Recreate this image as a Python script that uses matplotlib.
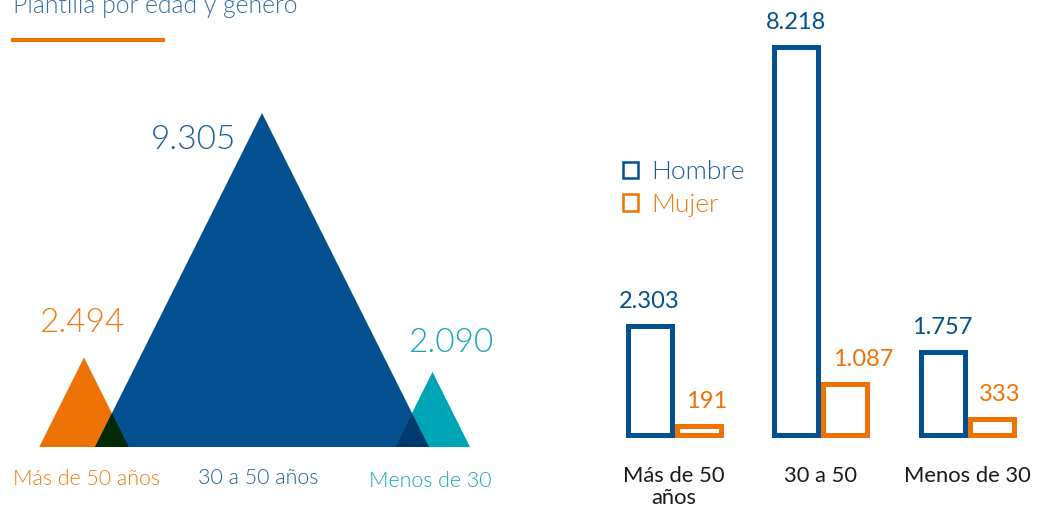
import matplotlib
matplotlib.use("Agg")
import matplotlib.pyplot as plt
from matplotlib.patches import Polygon, Patch
from matplotlib.lines import Line2D

# ---------------- data ----------------
title = "Plantilla por edad y género"
age_groups = ["Más de 50 años", "30 a 50 años", "Menos de 30"]
age_totals = [2494, 9305, 2090]

bar_categories = ["Más de 50\naños", "30 a 50", "Menos de 30"]
hombre = [2303, 8218, 1757]
mujer = [191, 1087, 333]
series_names = ["Hombre", "Mujer"]

# ---------------- style ----------------
W, H = 1053, 511
ORANGE = "#EE7203"
BLUE = "#02508F"
TEAL = "#00A5B5"
OVL_OB = "#022A06"
OVL_BT = "#003A6D"
BLUE_TXT = "#1F5C9C"
ORANGE_TXT = "#F07A12"
TEAL_TXT = "#12A8B8"
tri_colors = [ORANGE, BLUE, TEAL]
tri_text_colors = [ORANGE_TXT, BLUE_TXT, TEAL_TXT]
LIGHT = 300

plt.rcParams['font.family'] = ['Lato', 'DejaVu Sans']

fig = plt.figure(figsize=(W / 100, H / 100), dpi=100)

def fx(px):
    return px / W

def fy(py):
    return 1 - py / H

# title + orange rule
fig.text(fx(13), fy(12.5), title, fontsize=17.8, fontweight=LIGHT,
         color="#3A6EA8", ha='left', va='baseline')
fig.add_artist(Line2D([fx(13), fx(163)], [fy(40), fy(40)], color=ORANGE,
                      lw=3, transform=fig.transFigure))

# ---------------- left: triangles ----------------
UNIT = 334 / 9305.0          # pixels per employee
base_px = 447
axL = fig.add_axes([0, fy(base_px), fx(600), 1 - fy(base_px)])
axL.set_xlim(0, 600 / UNIT)
axL.set_ylim(0, base_px / UNIT)
axL.axis('off')

centers = [84 / UNIT, 262 / UNIT, 432.5 / UNIT]
for c, v, col in zip(centers, age_totals, tri_colors):
    axL.add_patch(Polygon([(c - v / 2, 0), (c, v), (c + v / 2, 0)],
                          closed=True, facecolor=col, edgecolor='none'))

# overlaps (darker blend)
for i, col in [(0, OVL_OB), (1, OVL_BT)]:
    c1, v1 = centers[i], age_totals[i]
    c2, v2 = centers[i + 1], age_totals[i + 1]
    xi = (v1 - v2 + 2 * c1 + 2 * c2) / 4.0
    yi = v1 - 2 * (xi - c1)
    axL.add_patch(Polygon([(c2 - v2 / 2, 0), (xi, yi), (c1 + v1 / 2, 0)],
                          closed=True, facecolor=col, edgecolor='none'))

# value labels above triangles (pixel layout)
val_pos = [(82, 332), (194, 149), (451, 352)]
for (px, py), v, col in zip(val_pos, age_totals, tri_text_colors):
    fig.text(fx(px), fy(py), f"{v:,}".replace(",", "."), fontsize=24,
             fontweight=LIGHT, color=col, ha='center', va='baseline')

lab_pos = [(86.5, 485), (258.5, 484), (430, 487)]
for (px, py), lab, col in zip(lab_pos, age_groups, tri_text_colors):
    fig.text(fx(px), fy(py), lab, fontsize=15.4, fontweight=LIGHT,
             color=col, ha='center', va='baseline')

# ---------------- right: outlined bars ----------------
PXU = 388 / 8218.0           # pixels per employee
unit_px = 146.5
base_r = 435
left_r = 674 - 0.5 * unit_px
axR = fig.add_axes([fx(left_r), fy(base_r), fx(3 * unit_px), 1 - fy(base_r)])
axR.set_xlim(-0.5, 2.5)
axR.set_ylim(0, base_r / PXU)
axR.axis('off')

x = list(range(len(bar_categories)))
bw = 44 / unit_px
off = 24.5 / unit_px
lw_pt = 5 * 0.72
axR.bar([i - off for i in x], hombre, bw, fill=False, edgecolor=BLUE,
        linewidth=lw_pt, clip_on=False, joinstyle='miter')
axR.bar([i + off for i in x], mujer, bw, fill=False, edgecolor=ORANGE,
        linewidth=lw_pt, clip_on=False, joinstyle='miter')

for i in x:
    axR.annotate(f"{hombre[i]:,}".replace(",", "."), (i - off, hombre[i]),
                 xytext=(0, 13), textcoords='offset points', ha='center',
                 va='baseline', fontsize=17, color=BLUE, annotation_clip=False)
    axR.annotate(f"{mujer[i]:,}".replace(",", "."), (i + off - bw / 2, mujer[i]),
                 xytext=(7, 13), textcoords='offset points', ha='left',
                 va='baseline', fontsize=17, color=ORANGE, annotation_clip=False)

for i, lab in zip(x, bar_categories):
    axR.annotate(lab, (i, 0), xytext=(0, -22.5), textcoords='offset points',
                 ha='center', va='top', fontsize=15.8, color="#1A1A1A",
                 linespacing=1.12, annotation_clip=False)

# legend
handles = [Patch(facecolor='none', edgecolor=BLUE, linewidth=1.8),
           Patch(facecolor='none', edgecolor=ORANGE, linewidth=1.8)]
leg = fig.legend(handles, series_names, loc='upper left',
                 bbox_to_anchor=(fx(623), fy(160)), frameon=False,
                 handlelength=0.57, handleheight=0.57,
                 handletextpad=0.5, labelspacing=0.33, borderpad=0,
                 borderaxespad=0, labelcolor=[BLUE_TXT, ORANGE_TXT],
                 prop={'weight': LIGHT, 'size': 19})

fig.savefig("out.png", dpi=100)
